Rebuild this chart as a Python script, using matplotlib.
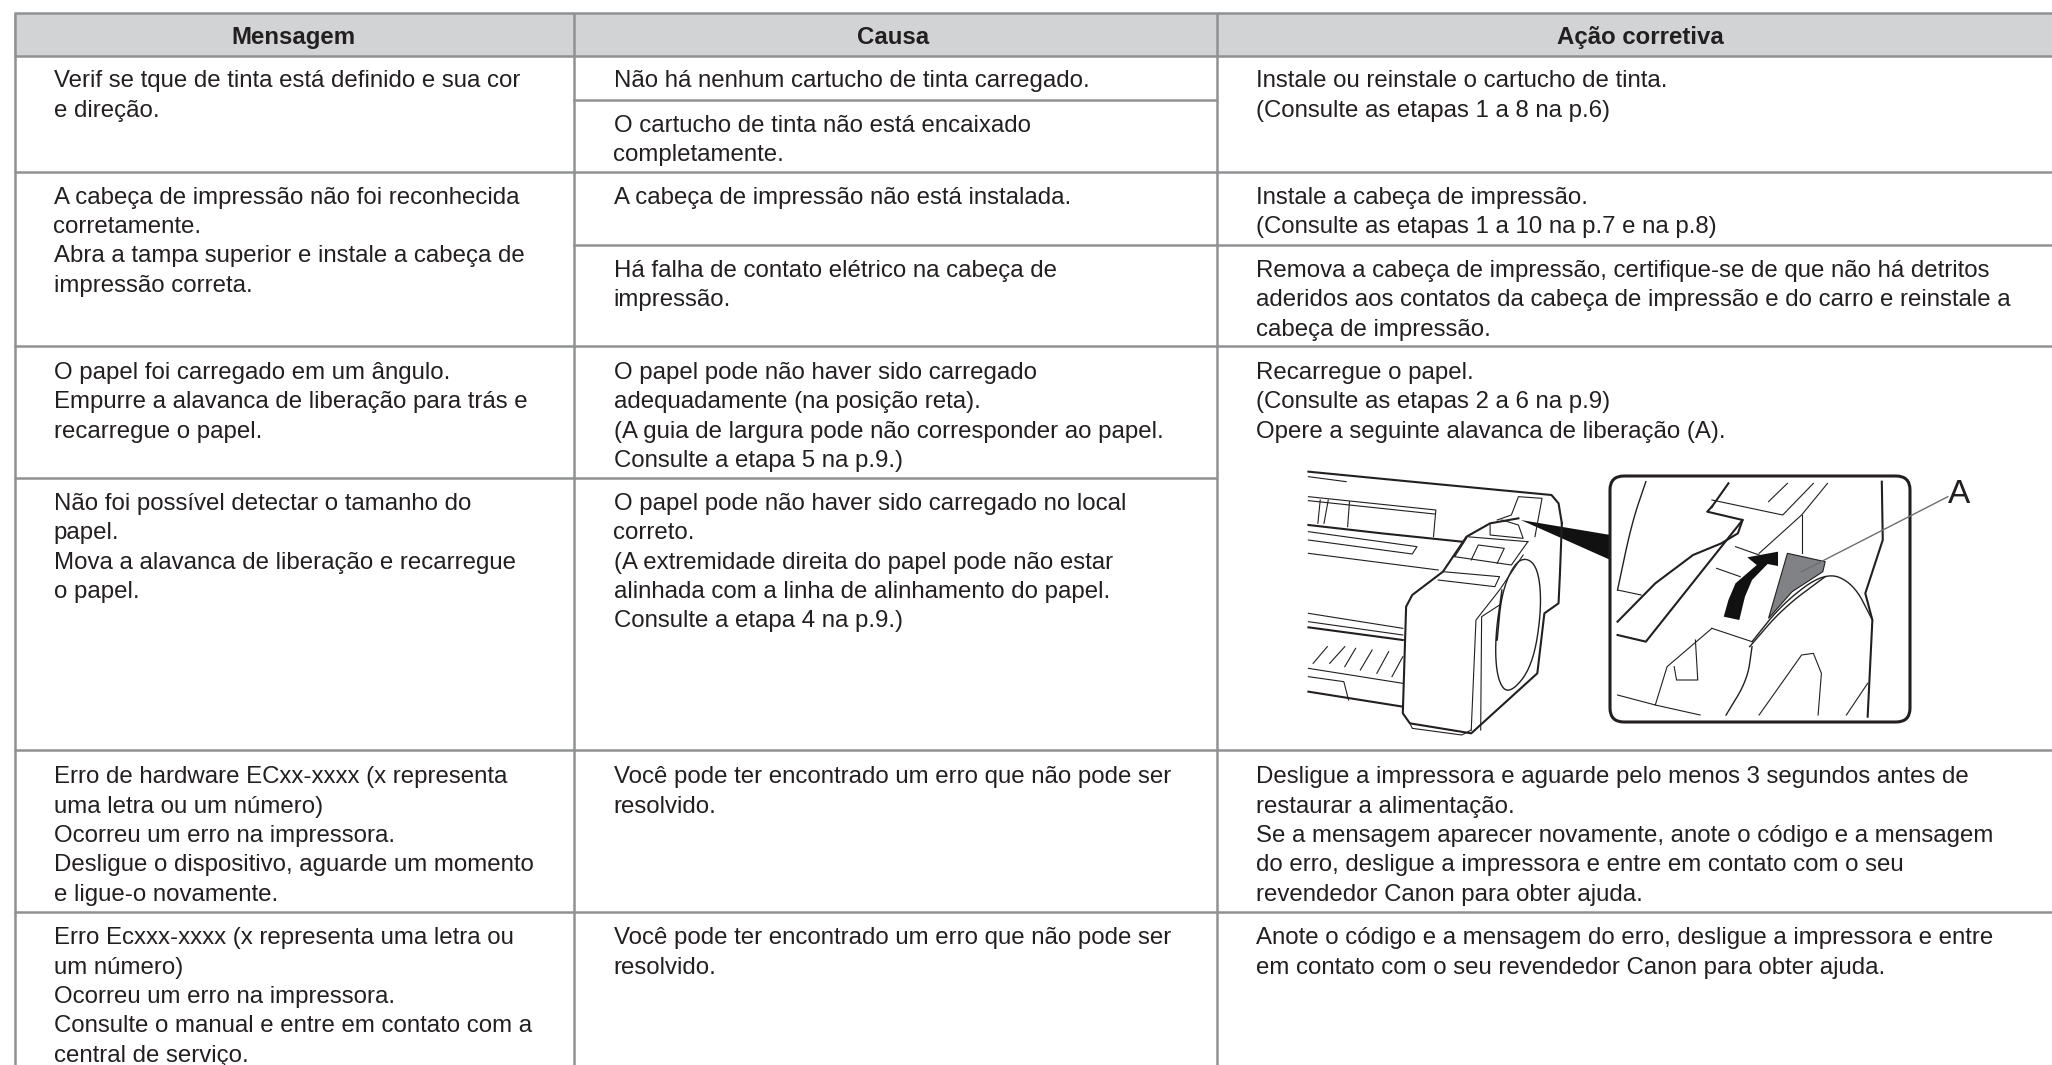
import matplotlib
matplotlib.use('Agg')
import matplotlib.pyplot as plt
from matplotlib.patches import Rectangle, FancyBboxPatch, Polygon

W = 2052
H = 1065
S = 2052 / 1568

headers = ['Mensagem', 'Causa', 'Ação corretiva']
header_x = [293, 893, 1640]

col_x = [53.5, 613.5, 1256]

# (top y of the first line in the small picture, lines)
col1 = [
    (60, ['Verif se tque de tinta está definido e sua cor', 'e direção.']),
    (149, ['A cabeça de impressão não foi reconhecida', 'corretamente.',
           'Abra a tampa superior e instale a cabeça de', 'impressão correta.']),
    (283, ['O papel foi carregado em um ângulo.', 'Empurre a alavanca de liberação para trás e',
           'recarregue o papel.']),
    (383, ['Não foi possível detectar o tamanho do', 'papel.',
           'Mova a alavanca de liberação e recarregue', 'o papel.']),
    (592, ['Erro de hardware ECxx-xxxx (x representa', 'uma letra ou um número)',
           'Ocorreu um erro na impressora.', 'Desligue o dispositivo, aguarde um momento',
           'e ligue-o novamente.']),
    (715, ['Erro Ecxxx-xxxx (x representa uma letra ou', 'um número)',
           'Ocorreu um erro na impressora.', 'Consulte o manual e entre em contato com a',
           'central de serviço.']),
]
col2 = [
    (60, ['Não há nenhum cartucho de tinta carregado.']),
    (94, ['O cartucho de tinta não está encaixado', 'completamente.']),
    (149, ['A cabeça de impressão não está instalada.']),
    (205, ['Há falha de contato elétrico na cabeça de', 'impressão.']),
    (283, ['O papel pode não haver sido carregado', 'adequadamente (na posição reta).',
           '(A guia de largura pode não corresponder ao papel.', 'Consulte a etapa 5 na p.9.)']),
    (383, ['O papel pode não haver sido carregado no local', 'correto.',
           '(A extremidade direita do papel pode não estar', 'alinhada com a linha de alinhamento do papel.',
           'Consulte a etapa 4 na p.9.)']),
    (592, ['Você pode ter encontrado um erro que não pode ser', 'resolvido.']),
    (715, ['Você pode ter encontrado um erro que não pode ser', 'resolvido.']),
]
col3 = [
    (60, ['Instale ou reinstale o cartucho de tinta.', '(Consulte as etapas 1 a 8 na p.6)']),
    (149, ['Instale a cabeça de impressão.', '(Consulte as etapas 1 a 10 na p.7 e na p.8)']),
    (205, ['Remova a cabeça de impressão, certifique-se de que não há detritos',
           'aderidos aos contatos da cabeça de impressão e do carro e reinstale a',
           'cabeça de impressão.']),
    (283, ['Recarregue o papel.', '(Consulte as etapas 2 a 6 na p.9)',
           'Opere a seguinte alavanca de liberação (A).']),
    (592, ['Desligue a impressora e aguarde pelo menos 3 segundos antes de',
           'restaurar a alimentação.',
           'Se a mensagem aparecer novamente, anote o código e a mensagem',
           'do erro, desligue a impressora e entre em contato com o seu',
           'revendedor Canon para obter ajuda.']),
    (715, ['Anote o código e a mensagem do erro, desligue a impressora e entre',
           'em contato com o seu revendedor Canon para obter ajuda.']),
]

# table rules, (y, x0, x1)
rules = [(13, 14, W), (55.5, 14, W), (172, 14, W), (345.5, 14, W), (750, 14, W), (911.5, 14, W),
         (99.5, 573, 1217), (245, 573, W), (478, 14, 1217)]
verticals = [14.5, 573.5, 1217]

line_col = '#8f9193'
txt_col = '#231f20'

# printer drawing, in zoom crop coordinates
thick = [
    [(145, 95), (400, 130), (660, 165), (675, 190), (682, 250)],
    [(145, 255), (300, 280), (470, 305)],
    [(682, 250), (678, 400), (675, 490), (645, 520), (630, 700), (490, 880), (360, 850), (345, 820),
     (352, 500), (365, 465), (430, 395), (480, 290), (530, 250), (590, 235)],
    [(145, 755), (345, 800)],
    [(145, 562), (345, 600)],
    [(1000, 200), (1035, 130)],
    [(1000, 200), (990, 215), (1065, 240), (1055, 280), (1020, 310), (960, 345), (880, 430), (800, 545)],
    [(800, 585), (860, 605), (1065, 240)],
    [(1360, 125), (1362, 300), (1325, 460), (1340, 540), (1330, 830)],
]
thin = [
    [(145, 110), (225, 125)],
    [(145, 170), (415, 210), (410, 290)],
    [(145, 182), (412, 222)],
    [(232, 185), (228, 260)],
    [(170, 180), (165, 250)], [(187, 180), (178, 250)],
    [(145, 275), (375, 320), (365, 342), (145, 300)],
    [(145, 340), (420, 390)],
    [(145, 520), (345, 565)], [(145, 545), (345, 585)],
    [(145, 685), (345, 730)], [(145, 710), (220, 725), (230, 780)],
    [(155, 670), (185, 620)], [(190, 670), (222, 620)], [(222, 680), (245, 625)],
    [(255, 690), (280, 630)], [(290, 700), (315, 635)], [(322, 710), (345, 650)],
    [(490, 870), (500, 540), (550, 450), (600, 345)],
    [(510, 870), (512, 530), (550, 495)],
    [(360, 850), (365, 865), (470, 885), (490, 870)],
    [(430, 395), (550, 410), (540, 440), (420, 420)],
    [(480, 290), (610, 305)], [(455, 350), (480, 295)], [(455, 350), (575, 375), (610, 305)],
    [(490, 360), (505, 315), (560, 325), (545, 370)],
    [(530, 255), (530, 285), (600, 295), (590, 255), (555, 240)],
    [(545, 240), (575, 225), (590, 170), (640, 175), (625, 290)],
    [(1000, 180), (1150, 225), (1215, 130)],
    [(1120, 185), (1160, 130)],
    [(1100, 340), (1190, 225), (1245, 130)],
    [(1190, 225), (1190, 340)],
    [(1050, 320), (1100, 345)], [(1010, 385), (1060, 410)],
    [(800, 450), (850, 465)],
    [(1000, 565), (1085, 605)],
    [(1000, 565), (905, 680), (880, 795), (800, 765)],
    [(1100, 825), (1190, 645), (1215, 640), (1232, 700), (1225, 825)],
    [(1285, 825), (1330, 730)],
    [(880, 795), (975, 825)],
    [(920, 680), (925, 720), (970, 720), (965, 600)],
]
# these get rounded off before drawing
curved = [
    [(545, 600), (555, 450), (590, 350), (630, 370), (640, 500), (620, 680), (570, 765), (545, 720), (540, 600),
     (555, 450)],
    [(860, 125), (830, 250), (800, 450)],
    [(1085, 605), (1150, 490), (1240, 395), (1300, 430), (1340, 540)],
    [(1080, 620), (1150, 505), (1240, 410)],
    [(1085, 620), (1075, 720), (1030, 825)],
]

inset_x = 1610
inset_y = 476


def zx(v):
    return 1240 + v / 2.119


def zy(v):
    return 440 + v / 3


def zpts(pts):
    return [(zx(a), zy(b)) for a, b in pts]


def round_off(pts):
    for n in range(3):
        new = [pts[0]]
        for a, b in zip(pts[:-1], pts[1:]):
            new.append((0.75 * a[0] + 0.25 * b[0], 0.75 * a[1] + 0.25 * b[1]))
            new.append((0.25 * a[0] + 0.75 * b[0], 0.25 * a[1] + 0.75 * b[1]))
        new.append(pts[-1])
        pts = new
    return pts


fig = plt.figure(figsize=(W / 100, H / 100), dpi=100)
ax = fig.add_axes([0, 0, 1, 1])
ax.set_xlim(0, W)
ax.set_ylim(H, 0)
ax.axis('off')

ax.add_patch(Rectangle((14, 13), W - 14, 42.5, fc='#d1d3d4', ec='none', zorder=1))

for y, x0, x1 in rules:
    ax.plot([x0, x1], [y, y], c=line_col, lw=1.8, solid_capstyle='butt', zorder=2)
for x in verticals:
    ax.plot([x, x], [13, H], c=line_col, lw=1.8, solid_capstyle='butt', zorder=2)

for x, t in zip(header_x, headers):
    ax.text(x, 44, t, fontsize=17.3, fontweight='bold', ha='center', va='baseline',
            family='Liberation Sans', color=txt_col)

for x, col in zip(col_x, [col1, col2, col3]):
    for top, lines in col:
        for i, t in enumerate(lines):
            ax.text(x, top * S + 8.7 + i * 29.3, t, fontsize=17.3, ha='left', va='baseline',
                    family='Liberation Sans', color=txt_col)

# lever and arrow
ax.add_patch(Polygon(zpts([(1160, 340), (1240, 365), (1235, 395), (1170, 455), (1120, 535)]),
                     fc='#808285', ec='#231f20', lw=0.8, zorder=3))
ax.add_patch(Polygon(zpts([(595, 240), (785, 285), (785, 360)]), fc='#111111', ec='none', zorder=3))
ax.add_patch(Polygon(zpts([(1025, 530), (1035, 480), (1050, 430), (1095, 375), (1075, 352), (1140, 335),
                           (1140, 378), (1118, 372), (1085, 420), (1070, 470), (1058, 540)]),
                     fc='#111111', ec='none', zorder=4))

for pts in thick:
    p = zpts(pts)
    ax.plot([a for a, b in p], [b for a, b in p], c='#231f20', lw=1.5, solid_joinstyle='round', zorder=3)
for pts in thin:
    p = zpts(pts)
    ax.plot([a for a, b in p], [b for a, b in p], c='#231f20', lw=0.8, solid_joinstyle='round', zorder=3)
for pts in curved:
    p = zpts(round_off(pts))
    ax.plot([a for a, b in p], [b for a, b in p], c='#231f20', lw=1, zorder=3)

ax.add_patch(FancyBboxPatch((inset_x + 12, inset_y + 12), 276, 222, boxstyle='round,pad=12,rounding_size=14',
                            fc='none', ec='#231f20', lw=2.2, zorder=5))
p = zpts([(1190, 395), (1500, 170)])
ax.plot([p[0][0], p[1][0]], [p[0][1], p[1][1]], c='#6d6e71', lw=1, zorder=6)
ax.text(zx(1523), zy(163), 'A', fontsize=24, ha='center', va='center', family='Liberation Sans', color=txt_col)

fig.savefig('out.png', dpi=100)
